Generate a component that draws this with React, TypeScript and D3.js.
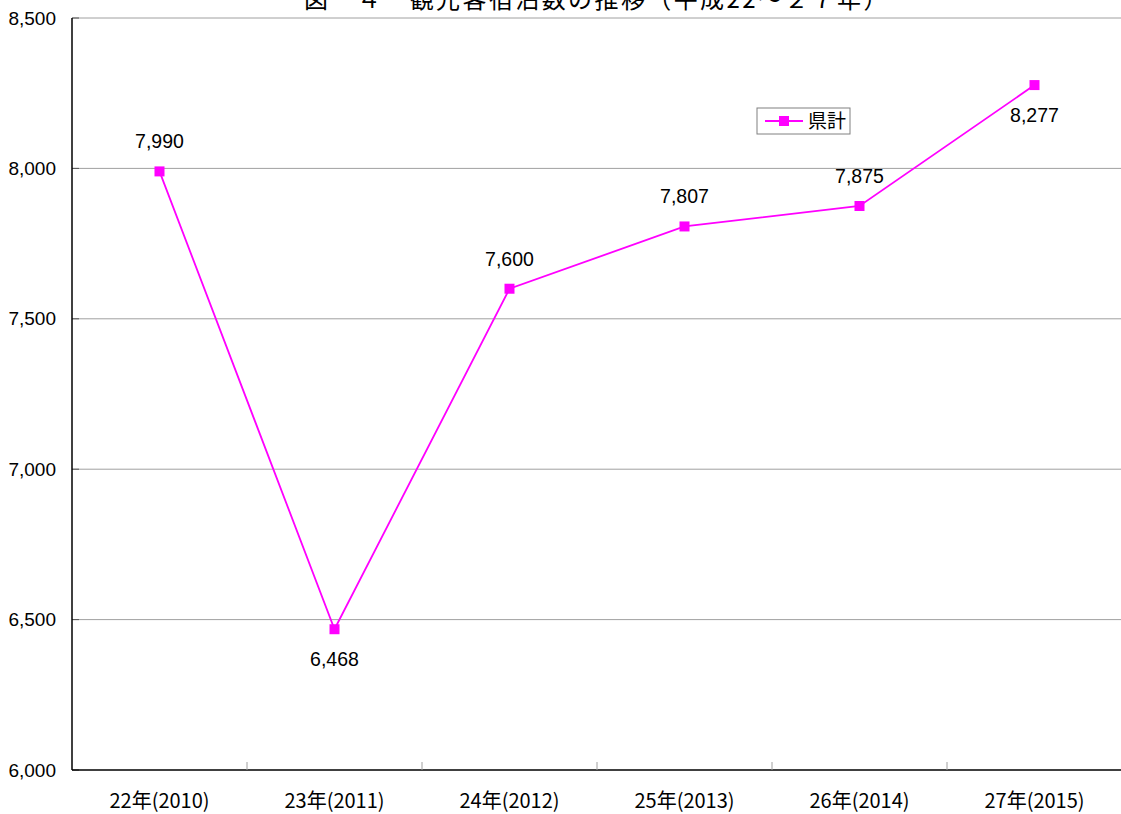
import React from "react";
import * as d3 from "d3";

const categories = ["22年(2010)", "23年(2011)", "24年(2012)", "25年(2013)", "26年(2014)", "27年(2015)"];
const values = [7990, 6468, 7600, 7807, 7875, 8277];
const labelAbove = [true, false, true, true, true, false];
const yTicks = [6000, 6500, 7000, 7500, 8000, 8500];
const title = "図　４　観光客宿泊数の推移（平成22～２７年）";
const seriesName = "県計";

export default function App() {
  const W = 1121, H = 814;
  const left = 72, right = 1122, top = 18, bottom = 770;
  const x = d3.scaleBand().domain(categories).range([left, right]);
  const y = d3.scaleLinear().domain([6000, 8500]).range([bottom, top]);
  const color = "#FF00FF";
  const line = d3.line<number>().x((_, i) => x(categories[i])! + x.bandwidth() / 2).y(v => y(v));
  const fmt = d3.format(",");
  const jp = "'Noto Sans CJK JP', 'Noto Sans', sans-serif";
  const num = "'Liberation Sans', Arial, sans-serif";
  return (
    <svg width={W} height={H} style={{ position: "absolute", left: 0, top: 0, background: "#fff" }}>
      <rect width={W} height={H} fill="#fff" />
      {yTicks.map(t => (
        <g key={t}>
          {t !== 6000 && <line x1={left} x2={right} y1={y(t)} y2={y(t)} stroke="#a0a0a0" strokeWidth={1} />}
          <line x1={left} x2={left + 7} y1={y(t)} y2={y(t)} stroke="#555" strokeWidth={1} />
          <text x={56} y={y(t)} dy="0.35em" textAnchor="end" fontFamily={num} fontSize={19}>{fmt(t)}</text>
        </g>
      ))}
      <line x1={left} x2={left} y1={top} y2={bottom} stroke="#000" strokeWidth={1.5} />
      <line x1={left} x2={right} y1={bottom} y2={bottom} stroke="#000" strokeWidth={1.5} />
      {categories.slice(1).map(c => (
        <line key={c} x1={x(c)} x2={x(c)} y1={bottom} y2={bottom - 8} stroke="#a0a0a0" strokeWidth={1} />
      ))}
      {categories.map(c => (
        <text key={c} x={x(c)! + x.bandwidth() / 2} y={808} textAnchor="middle" fontFamily={jp} fontSize={20}>{c}</text>
      ))}
      <path d={line(values) || ""} fill="none" stroke={color} strokeWidth={1.8} />
      {values.map((v, i) => {
        const cx = x(categories[i])! + x.bandwidth() / 2;
        const cy = y(v);
        return (
          <g key={i}>
            <rect x={cx - 5} y={cy - 5} width={10} height={10} fill={color} />
            <text x={cx} y={labelAbove[i] ? cy - 23 : cy + 37} textAnchor="middle" fontFamily={num} fontSize={19.5}>{fmt(v)}</text>
          </g>
        );
      })}
      <text x={597} y={8} textAnchor="middle" fontFamily={jp} fontSize={24} letterSpacing={2.4}>{title}</text>
      <g>
        <rect x={757} y={108} width={93} height={26} fill="#fff" stroke="#808080" strokeWidth={1} />
        <line x1={765} x2={803} y1={121} y2={121} stroke={color} strokeWidth={1.8} />
        <rect x={779} y={116} width={10} height={10} fill={color} />
        <text x={808} y={121} dy="0.36em" fontFamily={jp} fontSize={19}>{seriesName}</text>
      </g>
    </svg>
  );
}
